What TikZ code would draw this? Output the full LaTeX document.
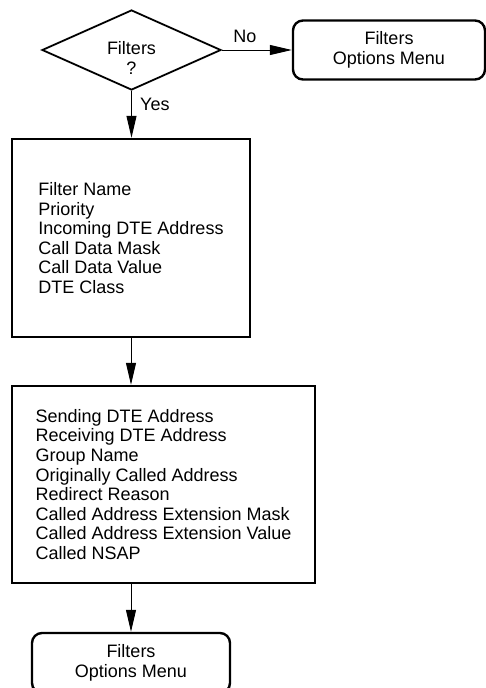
\documentclass[tikz,border=0pt]{standalone}
\usepackage{fontspec}
\setmainfont{Liberation Sans}
\usetikzlibrary{shapes.geometric,arrows.meta}
\tikzset{
  txt/.style={inner sep=0pt, font=\fontsize{18}{19.6}\selectfont},
  decision/.style={diamond, draw, line width=1.8pt, inner sep=0pt, aspect=2.24,
     minimum width=179pt, minimum height=80pt},
  menubox/.style={draw, line width=2.4pt, rounded corners=10pt, align=center,
     minimum width=192pt, minimum height=59pt, inner sep=0pt,
     font=\fontsize{18}{19.4}\selectfont},
  fieldbox/.style={draw, line width=2.4pt, align=left, inner sep=0pt,
     font=\fontsize{18}{19.6}\selectfont},
  flow/.style={line width=1pt, -{Triangle[length=22pt,width=10pt]}},
}
\begin{document}
\begin{tikzpicture}[x=1pt,y=-1pt]
\useasboundingbox (0,0) rectangle (486,688);
% decision
\node[decision] (dec) at (131.5,50) {};
\node[txt, align=center] (dectext) at (131.5,58) {Filters\\?};
% top-right menu
\node[menubox] (optmenu) at (389,50) {Filters\\Options Menu};
% field boxes
\node[fieldbox, minimum width=238pt, minimum height=198pt] (box1) at (131,238)
  {Filter Name\\Priority\\Incoming DTE Address\\Call Data Mask\\Call Data Value\\DTE Class};
\node[fieldbox, minimum width=303pt, minimum height=197pt] (box2) at (163.5,484.5)
  {Sending DTE Address\\Receiving DTE Address\\Group Name\\Originally Called Address\\Redirect Reason\\Called Address Extension Mask\\Called Address Extension Value\\Called NSAP};
% bottom menu
\node[menubox, minimum width=198pt, minimum height=60pt] (endmenu) at (131,663) {Filters\\Options Menu};
% connectors
\draw[flow] (dec.east) -- (optmenu.west);
\draw[flow] (dec.south) -- (box1.north -| dec.south);
\draw[flow] (box1.south) -- (box2.north -| box1.south);
\draw[flow] (box2.south -| box1.south) -- (endmenu.north);
% labels
\node[txt, anchor=base] (nolab) at (245,42.7) {No};
\node[txt, anchor=base west] (yeslab) at (140,110) {Yes};
\end{tikzpicture}
\end{document}
